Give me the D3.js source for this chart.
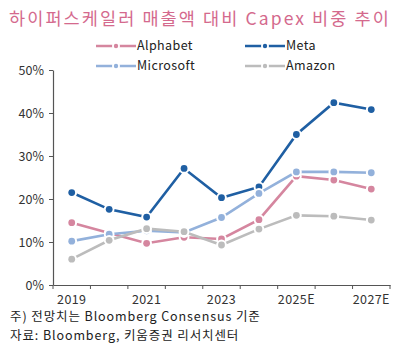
<!DOCTYPE html>
<html>
<head>
<meta charset="utf-8">
<script src="https://cdn.jsdelivr.net/npm/d3@7"></script>
<style>
  body { margin: 0; background: #fff; }
  text { font-family: "Noto Sans CJK KR", "Noto Sans", sans-serif; }
</style>
</head>
<body>
<div id="vis"></div>
<script>
const width = 399
const height = 351

const years = ["2019", "2020", "2021", "2022", "2023", "2024", "2025E", "2026E", "2027E"]
const shownYears = ["2019", "2021", "2023", "2025E", "2027E"]
const yTicks = [0, 10, 20, 30, 40, 50]

const seriesNames = ["Alphabet", "Meta", "Microsoft", "Amazon"]
const alphabet = [14.5, 12.1, 9.7, 11.1, 10.7, 15.2, 25.3, 24.4, 22.3]
const meta = [21.5, 17.6, 15.8, 27.1, 20.3, 22.8, 35.0, 42.4, 40.8]
const microsoft = [10.2, 11.8, 12.6, 12.2, 15.7, 21.3, 26.3, 26.3, 26.1]
const amazon = [6.0, 10.4, 13.1, 12.4, 9.3, 13.0, 16.2, 16.0, 15.1]
const colours = ["#d5869f", "#1f5fa3", "#93b1db", "#bcbcbc"]

const seriesValues = [alphabet, meta, microsoft, amazon]

const svg = d3.select("#vis")
    .append("svg")
    .attr("width", width)
    .attr("height", height)

// title
svg.append("text")
    .attr("x", 9)
    .attr("y", 25)
    .attr("fill", "#d4698d")
    .attr("font-size", 17.5)
    .attr("letter-spacing", 2.1)
    .text("하이퍼스케일러 매출액 대비 Capex 비중 추이")

const xScale = d3.scaleBand(years, [53, 390])
const yScale = d3.scaleLinear([0, 50], [285, 70])
const colourScale = d3.scaleOrdinal(seriesNames, colours)

// axes
const axisL = d3.axisLeft(yScale)
    .tickValues(yTicks)
    .tickFormat(d => d + "%")
    .tickSize(4)
    .tickSizeOuter(0)

const yAxis = svg.append("g")
    .attr("transform", "translate(53, 0)")
    .call(axisL)

const axisB = d3.axisBottom(xScale)
    .tickSize(0)
    .tickFormat(d => shownYears.includes(d) ? d : "")

const xAxis = svg.append("g")
    .attr("transform", "translate(0, 285)")
    .call(axisB)

// ticks at category boundaries
xAxis.selectAll("line.boundary")
    .data(years.concat(["end"]))
    .join("line")
        .attr("class", "boundary")
        .attr("x1", (d, i) => i < years.length ? xScale(d) : xScale.range()[1])
        .attr("x2", (d, i) => i < years.length ? xScale(d) : xScale.range()[1])
        .attr("y1", 0)
        .attr("y2", 4)
        .attr("stroke", "#555")

svg.selectAll(".domain").attr("stroke", "#555").attr("stroke-width", 1.2)
yAxis.selectAll(".tick line").attr("stroke", "#555")
svg.selectAll(".tick text")
    .attr("font-size", 12.5)
    .attr("fill", "#333")
    .style("font-family", "\"Noto Sans CJK KR\", sans-serif")
yAxis.selectAll(".tick text").attr("x", -9)
xAxis.selectAll(".tick text").attr("y", 10).attr("letter-spacing", 0.4)

// lines + markers
const line = d3.line()
    .x((d, i) => xScale(years[i]) + xScale.bandwidth() / 2)
    .y(d => yScale(d))

seriesNames.forEach((name, k) => {
    const g = svg.append("g")
    g.append("path")
        .datum(seriesValues[k])
        .attr("d", line)
        .attr("fill", "none")
        .attr("stroke", colourScale(name))
        .attr("stroke-width", 2.6)
    g.selectAll("circle")
        .data(seriesValues[k])
        .join("circle")
            .attr("cx", (d, i) => xScale(years[i]) + xScale.bandwidth() / 2)
            .attr("cy", d => yScale(d))
            .attr("r", 3.4)
            .attr("fill", colourScale(name))
            .attr("stroke", "#fff")
            .attr("stroke-width", 4)
            .attr("paint-order", "stroke")
})

// legend
const legendPos = [[96, 46], [245, 46], [96, 66], [245, 66]]
const legend = svg.selectAll("g.legend-item")
    .data(seriesNames)
    .join("g")
        .attr("class", "legend-item")
        .attr("transform", (d, i) => `translate(${legendPos[i][0]}, ${legendPos[i][1]})`)

legend.append("line")
    .attr("x1", 0).attr("x2", 40)
    .attr("stroke", d => colourScale(d))
    .attr("stroke-width", 2.6)
legend.append("circle")
    .attr("cx", 20)
    .attr("r", 2.2)
    .attr("fill", d => colourScale(d))
    .attr("stroke", "#fff")
    .attr("stroke-width", 3.5)
    .attr("paint-order", "stroke")
legend.append("text")
    .attr("x", 41)
    .attr("dy", "0.35em")
    .attr("font-size", 12.5)
    .attr("letter-spacing", 0.4)
    .attr("fill", "#222")
    .text(d => d)

// notes
const notes = ["주) 전망치는 Bloomberg Consensus 기준", "자료: Bloomberg, 키움증권 리서치센터"]
svg.selectAll("text.note")
    .data(notes)
    .join("text")
        .attr("class", "note")
        .attr("x", 10)
        .attr("y", (d, i) => 321 + i * 19)
        .attr("font-size", 12.5)
        .attr("letter-spacing", 0.9)
        .attr("fill", "#222")
        .text(d => d)
</script>
</body>
</html>
